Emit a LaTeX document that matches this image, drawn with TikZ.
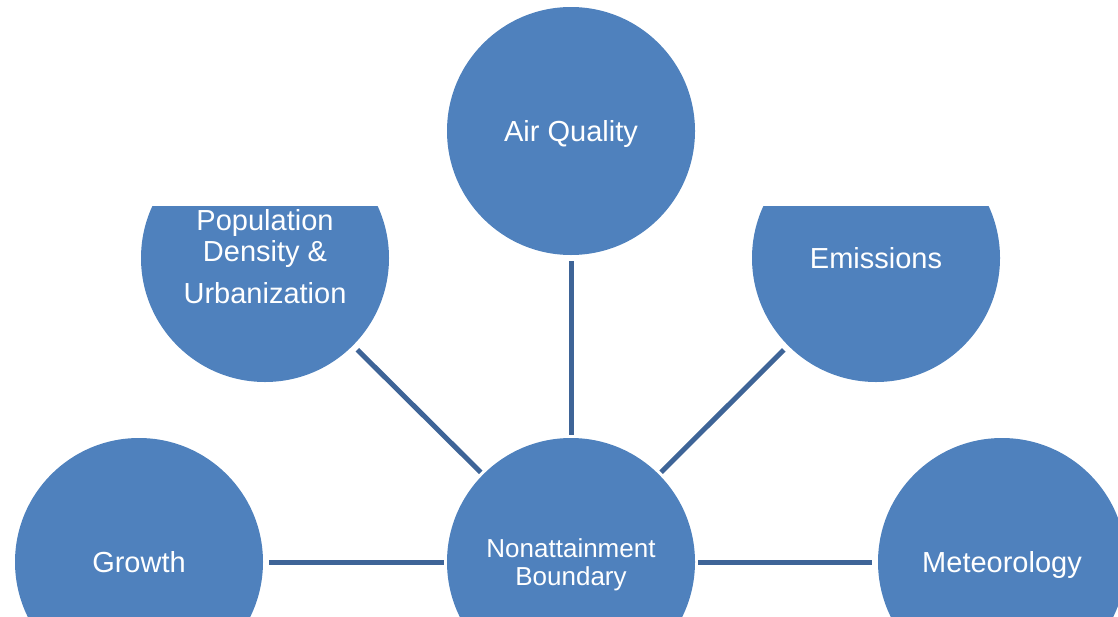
\documentclass[tikz,border=0pt]{standalone}
\usepackage{fontspec}
\setmainfont{Liberation Sans}
\definecolor{bubble}{HTML}{4F81BD}
\definecolor{spoke}{HTML}{3E6497}
\begin{document}
\begin{tikzpicture}[x=1pt,y=-1pt,
  bubble/.style={circle,fill=bubble,draw=none,minimum size=248pt,inner sep=0pt,
    text=white,align=center,text depth=0pt,font=\fontsize{29}{31}\selectfont},
  spoke/.style={draw=spoke,line width=5pt,shorten <=6pt,shorten >=3pt}]
\useasboundingbox (0,0) rectangle (1118,616);
% top and bottom rows
\node[bubble] (air) at (571,131) {Air Quality};
\node[bubble] (growth) at (139,562) {Growth};
\node[bubble] (met) at (1002,562) {Meteorology};
\node[bubble,font=\fontsize{26}{28}\selectfont] (core) at (571,562) {Nonattainment\\Boundary};
% middle row, cut flat along the top
\begin{scope}
  \clip (0,206) rectangle (1118,616);
  \node[bubble,text depth=4pt] (pop) at (265,258) {Population\\Density \&\\[11pt]Urbanization};
  \node[bubble] (emis) at (876,258) {Emissions};
\end{scope}
% spokes from each topic to the core
\draw[spoke] (air) -- (core);
\draw[spoke] (pop) -- (core);
\draw[spoke] (emis) -- (core);
\draw[spoke] (growth) -- (core);
\draw[spoke] (met) -- (core);
\end{tikzpicture}
\end{document}
